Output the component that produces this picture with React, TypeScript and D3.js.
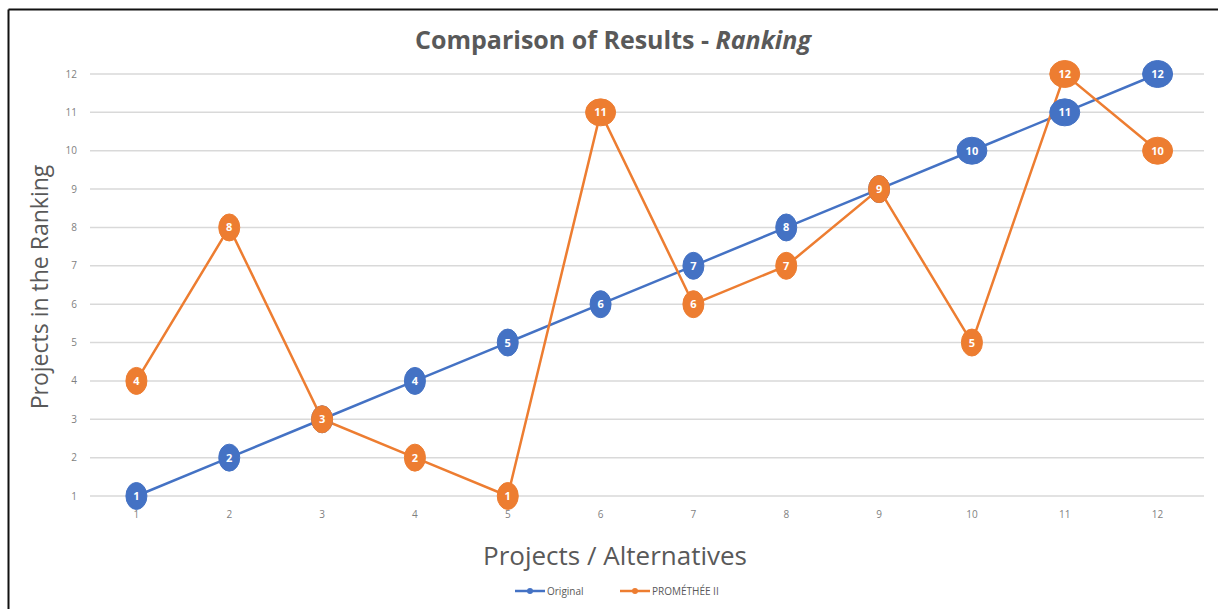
import React from "react";
import * as d3 from "d3";

const categories = ["1", "2", "3", "4", "5", "6", "7", "8", "9", "10", "11", "12"];
const originalValues = [1, 2, 3, 4, 5, 6, 7, 8, 9, 10, 11, 12];
const prometheeValues = [4, 8, 3, 2, 1, 11, 6, 7, 9, 5, 12, 10];
const yTicks = [1, 2, 3, 4, 5, 6, 7, 8, 9, 10, 11, 12];

const seriesList = [
  { name: "Original", values: originalValues, color: "#4472C4" },
  { name: "PROMÉTHÉE II", values: prometheeValues, color: "#ED7D31" },
];

const W = 1218;
const H = 609;
const FONT = "'Open Sans', 'Liberation Sans', sans-serif";

export default function App() {
  const x = d3.scaleBand<string>().domain(categories).range([90, 1204]);
  const y = d3.scaleLinear().domain([1, 12]).range([496, 74]);
  const cx = (c: string) => (x(c) as number) + x.bandwidth() / 2;
  const line = d3
    .line<number>()
    .x((_, i) => cx(categories[i]))
    .y((v) => y(v));

  return (
    <svg
      width={W}
      height={H}
      style={{ position: "absolute", left: 0, top: 0, background: "#fff" }}
      fontFamily={FONT}
    >
      <rect x={0} y={0} width={W} height={H} fill="#fff" />
      {/* border (top & left) */}
      <line x1={8.5} y1={9.5} x2={W} y2={9.5} stroke="#111" strokeWidth={2} />
      <line x1={8.5} y1={9.5} x2={8.5} y2={H} stroke="#111" strokeWidth={2} />

      {/* title */}
      <text x={613} y={49} textAnchor="middle" fontSize={25} fontWeight="bold" fill="#595959">
        Comparison of Results -{" "}
        <tspan fontStyle="italic">Ranking</tspan>
      </text>

      {/* gridlines */}
      {yTicks.map((t) => (
        <line key={t} x1={90} x2={1204} y1={y(t)} y2={y(t)} stroke="#d9d9d9" strokeWidth={1.5} />
      ))}

      {/* y tick labels */}
      {yTicks.map((t) => (
        <text key={t} x={77} y={y(t) + 3.5} textAnchor="end" fontSize={10} fill="#7f7f7f">
          {t}
        </text>
      ))}

      {/* x tick labels */}
      {categories.map((c) => (
        <text key={c} x={cx(c)} y={518} textAnchor="middle" fontSize={10} fill="#7f7f7f">
          {c}
        </text>
      ))}

      {/* axis titles */}
      <text
        transform={`translate(48,287) rotate(-90)`}
        textAnchor="middle"
        fontSize={23}
        fill="#595959"
      >
        Projects in the Ranking
      </text>
      <text x={615} y={565} textAnchor="middle" fontSize={26} fill="#595959">
        Projects / Alternatives
      </text>

      {/* lines */}
      {seriesList.map((s) => (
        <path key={s.name} d={line(s.values) || ""} fill="none" stroke={s.color} strokeWidth={2.5} />
      ))}

      {/* markers */}
      {seriesList.map((s) => (
        <g key={s.name}>
          {s.values.map((v, i) => {
            const px = cx(categories[i]);
            const py = y(v);
            const two = v >= 10;
            return (
              <g key={i}>
                <ellipse cx={px} cy={py} rx={two ? 15 : 10.5} ry={13.5} fill={s.color} stroke={s.color} strokeWidth={1} />
                <text x={px} y={py + 4} textAnchor="middle" fontSize={11} fontWeight="bold" fill="#fff">
                  {v}
                </text>
              </g>
            );
          })}
        </g>
      ))}

      {/* legend */}
      {seriesList.map((s, i) => {
        const lx = i === 0 ? 515 : 620;
        return (
          <g key={s.name}>
            <line x1={lx} x2={lx + 30} y1={591} y2={591} stroke={s.color} strokeWidth={2.5} />
            <circle cx={lx + 15} cy={591} r={3} fill={s.color} />
            <text x={lx + 32} y={594.5} fontSize={10} fill="#595959">
              {s.name}
            </text>
          </g>
        );
      })}
    </svg>
  );
}
